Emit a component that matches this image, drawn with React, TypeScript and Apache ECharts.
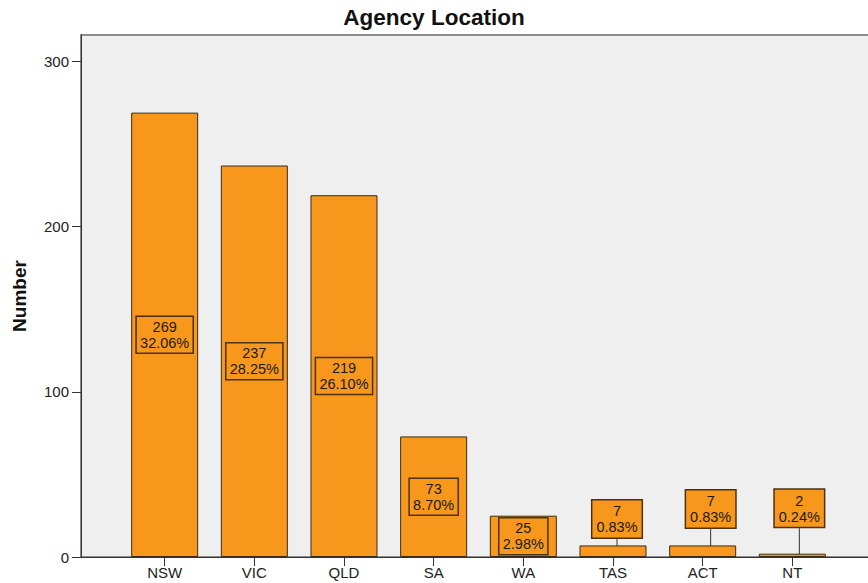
import React, { useEffect, useRef } from "react";
import * as echarts from "echarts";

const categories = ["NSW", "VIC", "QLD", "SA", "WA", "TAS", "ACT", "NT"];
const counts = [269, 237, 219, 73, 25, 7, 7, 2];
const percents = ["32.06%", "28.25%", "26.10%", "8.70%", "2.98%", "0.83%", "0.83%", "0.24%"];
const yTicks = [0, 100, 200, 300];
// labels that sit above their bar, with a leader line: [dx, dy] offsets in px
const outsideLabelOffsets: Record<number, [number, number]> = {
  5: [4, -8],
  6: [8, -18],
  7: [7, -27],
};

const BAR_COLOR = "#F7981D";
const FONT = "'Liberation Sans', Arial, sans-serif";

export default function App() {
  const ref = useRef<HTMLDivElement>(null);
  useEffect(() => {
    document.body.style.margin = "0";
    const chart = echarts.init(ref.current!, null, { renderer: "svg" });
    const catIdx = categories.map((_, i) => i);
    const seriesData = counts.map((v, i) => {
      const outside = outsideLabelOffsets[i] !== undefined;
      const item: any = { value: [i, v] };
      if (outside) {
        item.label = { position: "top", distance: 0, backgroundColor: BAR_COLOR };
        item.labelLine = { show: true, lineStyle: { color: "#333", width: 1 } };
      }
      return item;
    });
    chart.setOption({
      animation: false,
      textStyle: { fontFamily: FONT },
      title: {
        text: "Agency Location",
        left: "center",
        top: 6,
        padding: 0,
        textStyle: { fontSize: 22.5, fontWeight: "bold", color: "#111", fontFamily: FONT },
      },
      grid: {
        left: 81,
        top: 35,
        width: 795,
        height: 522,
        show: true,
        backgroundColor: "#EFEFEF",
        borderColor: "#8c8c8c",
        borderWidth: 2,
        outerBoundsMode: "none",
        containLabel: false,
      },
      xAxis: {
        type: "value",
        min: -0.933,
        max: 7.933,
        splitLine: { show: false },
        axisLine: { show: true, onZero: false, lineStyle: { color: "#333", width: 1 } },
        axisTick: { show: true, length: 9, customValues: catIdx, lineStyle: { color: "#333" } },
        axisLabel: {
          customValues: catIdx,
          formatter: (v: number) => categories[Math.round(v)] ?? "",
          fontSize: 15,
          color: "#222",
          margin: 8,
          fontFamily: FONT,
        },
      },
      yAxis: {
        type: "value",
        min: 0,
        max: 316,
        name: "Number",
        nameLocation: "middle",
        nameGap: 52,
        nameTextStyle: { fontWeight: "bold", fontSize: 19, color: "#111", fontFamily: FONT },
        splitLine: { show: false },
        axisLine: { show: true, onZero: false, lineStyle: { color: "#333", width: 1 } },
        axisTick: { show: true, length: 9, customValues: yTicks, lineStyle: { color: "#333" } },
        axisLabel: { customValues: yTicks, fontSize: 15, color: "#222", margin: 12, fontFamily: FONT },
      },
      series: [
        {
          type: "bar",
          barWidth: 67,
          data: seriesData,
          itemStyle: { color: BAR_COLOR, borderColor: "#3a2a1a", borderWidth: 1 },
          label: {
            show: true,
            position: "inside",
            formatter: (p: any) => `${counts[p.dataIndex]}\n${percents[p.dataIndex]}`,
            color: "#1a1a1a",
            fontSize: 14.5,
            lineHeight: 16,
            fontFamily: FONT,
            borderColor: "#4d3210",
            borderWidth: 1.5,
            padding: [3, 4, 2, 4],
            align: "center",
          },
          labelLayout: (params: any) => {
            const off = outsideLabelOffsets[params.dataIndex];
            return off ? { dx: off[0], dy: off[1] } : {};
          },
        },
      ],
    });
    return () => chart.dispose();
  }, []);
  return <div ref={ref} style={{ width: 868, height: 583 }} />;
}
